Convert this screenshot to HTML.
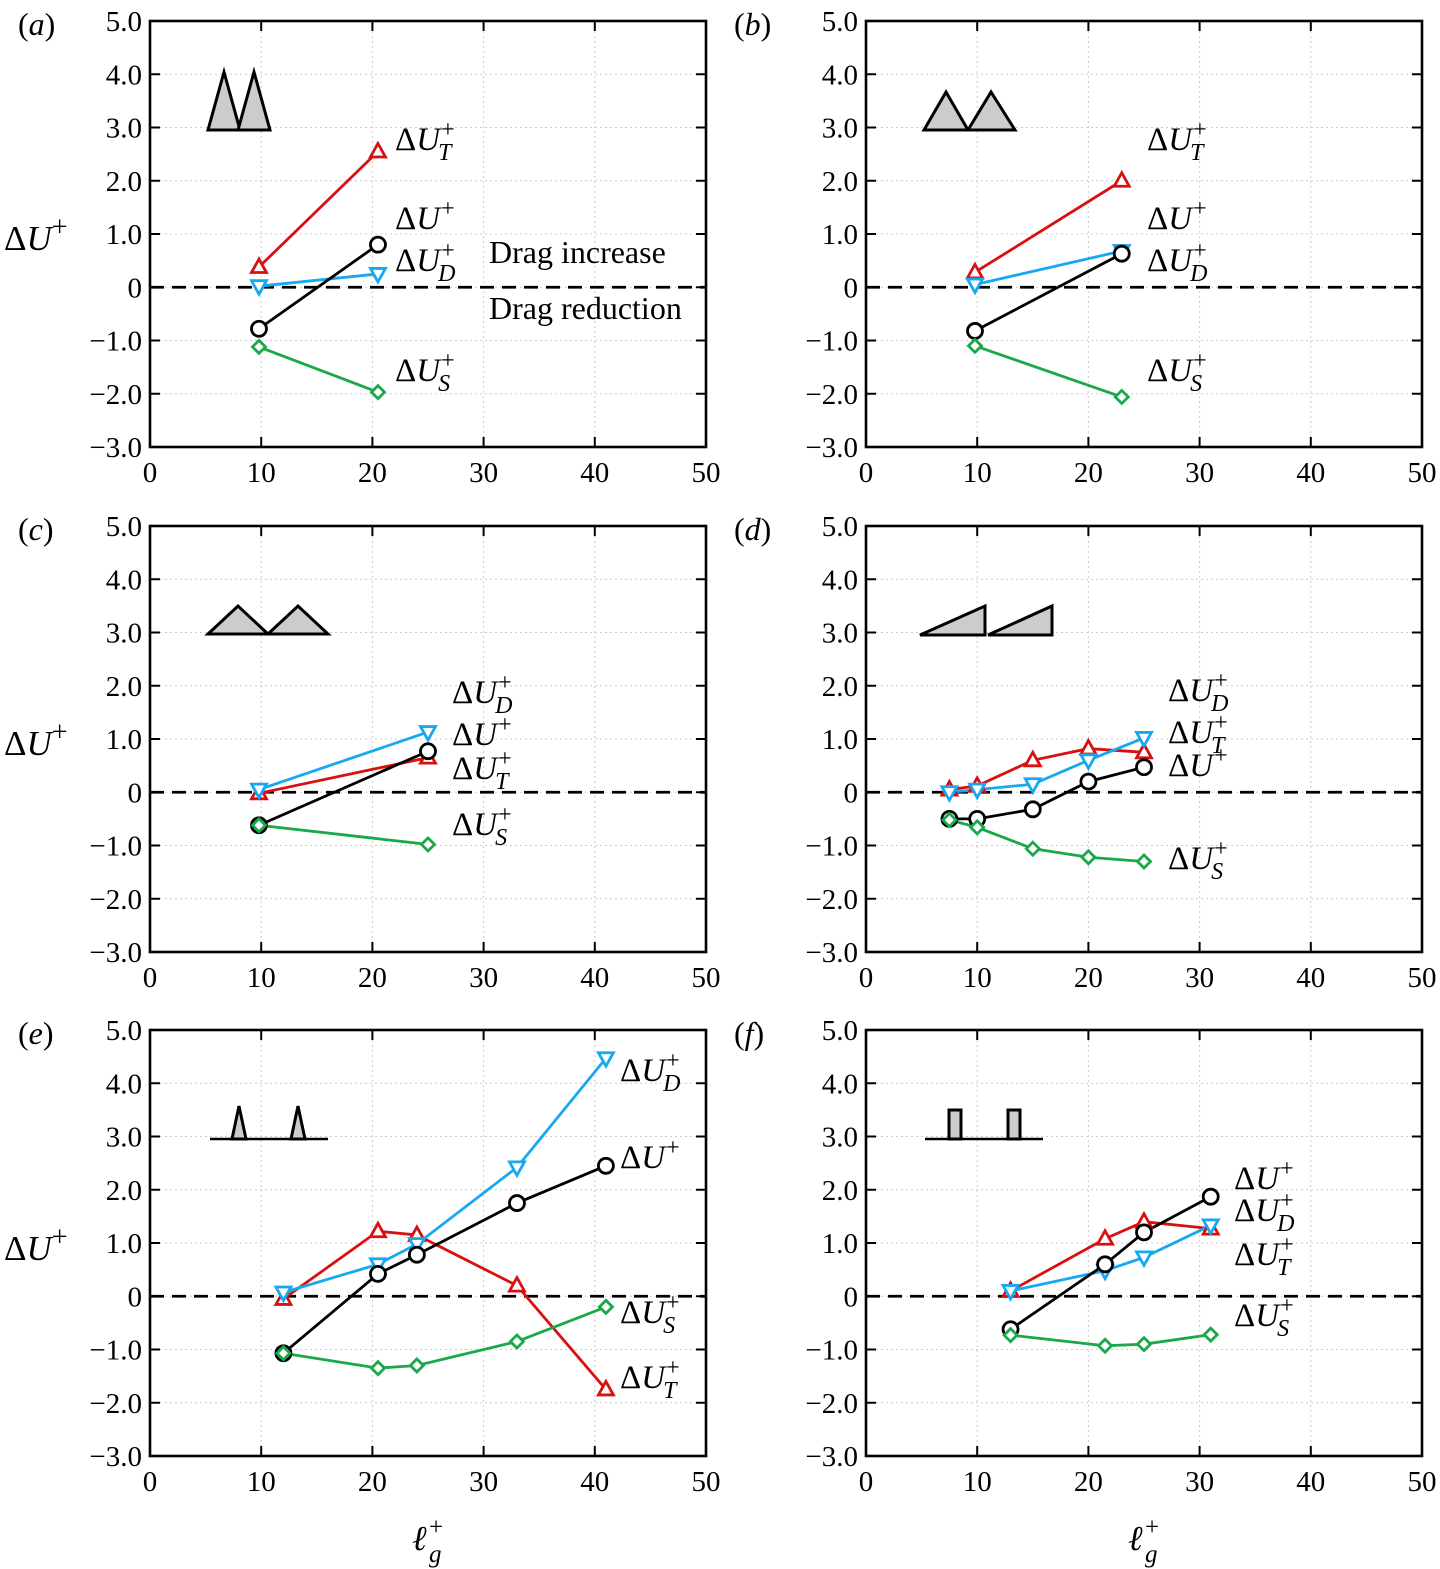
<!DOCTYPE html>
<html><head><meta charset="utf-8">
<style>
html,body{margin:0;padding:0;background:#fff;}
svg{display:block;font-family:"Liberation Serif",serif;}
</style></head>
<body>
<svg id="chart" width="1440" height="1569" viewBox="0 0 1440 1569" xmlns="http://www.w3.org/2000/svg"></svg>
<script>
// ---- data ----
const xA=[9.8,20.5], tA=[0.38,2.55], uA=[-0.78,0.8], dA=[0.02,0.25], sA=[-1.12,-1.97];
const xB=[9.8,23], tB=[0.28,2.0], uB=[-0.82,0.63], dB=[0.05,0.68], sB=[-1.1,-2.06];
const xC=[9.8,25], tC=[-0.02,0.65], uC=[-0.62,0.77], dC=[0.05,1.13], sC=[-0.62,-0.98];
const xD=[7.5,10,15,20,25], tD=[0.05,0.12,0.6,0.82,0.75], uD=[-0.5,-0.5,-0.32,0.2,0.47], dD=[0.0,0.05,0.15,0.6,1.02], sD=[-0.52,-0.66,-1.06,-1.22,-1.3];
const xE=[12,20.5,24,33,41], tE=[-0.05,1.22,1.15,0.2,-1.75], uE=[-1.07,0.42,0.78,1.75,2.45], dE=[0.07,0.6,0.98,2.42,4.47], sE=[-1.07,-1.35,-1.3,-0.85,-0.2];
const xF=[13,21.5,25,31], tF=[0.1,1.08,1.4,1.27], uF=[-0.62,0.6,1.2,1.87], dF=[0.1,0.48,0.73,1.33], sF=[-0.73,-0.93,-0.9,-0.72];
const xTicks=[0,10,20,30,40,50];
const yTicks=[5,4,3,2,1,0,-1,-2,-3];
const yTickLabels=["5.0","4.0","3.0","2.0","1.0","0","\u22121.0","\u22122.0","\u22123.0"];

const NS="http://www.w3.org/2000/svg";
const svg=document.getElementById('chart');
function el(tag,attrs,parent){const e=document.createElementNS(NS,tag);for(const k in attrs)e.setAttribute(k,attrs[k]);(parent||svg).appendChild(e);return e;}

const COL={T:"#d81010",U:"#000",D:"#18a8f0",S:"#1aa84a"};

const panels=[
 {id:"a",x0:150,y0:21,xs:xA,T:tA,U:uA,D:dA,S:sA,lab:[["T",395,150],["U",395,229],["D",395,271],["S",395,381]]},
 {id:"b",x0:866,y0:21,xs:xB,T:tB,U:uB,D:dB,S:sB,lab:[["T",1147,150],["U",1147,229],["D",1147,271],["S",1147,381]]},
 {id:"c",x0:150,y0:526,xs:xC,T:tC,U:uC,D:dC,S:sC,lab:[["D",452,703],["U",452,745],["T",452,779],["S",452,835]]},
 {id:"d",x0:866,y0:526,xs:xD,T:tD,U:uD,D:dD,S:sD,lab:[["D",1168,701],["T",1168,743],["U",1168,776],["S",1168,869]]},
 {id:"e",x0:150,y0:1030,xs:xE,T:tE,U:uE,D:dE,S:sE,lab:[["D",620,1081],["U",620,1168],["S",620,1323],["T",620,1388]]},
 {id:"f",x0:866,y0:1030,xs:xF,T:tF,U:uF,D:dF,S:sF,lab:[["U",1234,1189],["D",1234,1221],["T",1234,1265],["S",1234,1326]]}
];
const W=556,H=426;

function marker(g,key,cx,cy){
  let m;
  if(key==="U") m=el('circle',{cx,cy,r:7.5},g);
  else if(key==="T") m=el('polygon',{points:`${cx},${cy-8} ${cx-7.5},${cy+5.5} ${cx+7.5},${cy+5.5}`},g);
  else if(key==="D") m=el('polygon',{points:`${cx},${cy+8} ${cx-7.5},${cy-5.5} ${cx+7.5},${cy-5.5}`},g);
  else m=el('polygon',{points:`${cx},${cy-6.5} ${cx+6.5},${cy} ${cx},${cy+6.5} ${cx-6.5},${cy}`},g);
  m.setAttribute('fill','#fff');m.setAttribute('stroke',COL[key]);m.setAttribute('stroke-width','2.8');
  return m;
}

function dulabel(g,key,x,y){
  const t=el('text',{x,y,'font-size':33},g);
  t.textContent="\u0394";
  const it=el('tspan',{'font-style':'italic'},t);it.textContent="U";
  const w=t.getComputedTextLength();
  const sp=el('text',{x:x+w+1,y:y-13,'font-size':24},g);sp.textContent="+";
  if(key!=="U"){const sb=el('text',{x:x+w-2,y:y+10,'font-size':24,'font-style':'italic'},g);sb.textContent=key;}
}

panels.forEach(p=>{
  const g=el('g',{});
  
  
  const X=v=>p.x0+v/50*W, Y=v=>p.y0+(5-v)/8*H;
  xTicks.forEach(v=>{if(v>0&&v<50)el('line',{x1:X(v),x2:X(v),y1:p.y0,y2:p.y0+H,stroke:'#ccc','stroke-dasharray':'2,3','stroke-width':1},g);});
  yTicks.forEach(v=>{if(v<5&&v>-3)el('line',{x1:p.x0,x2:p.x0+W,y1:Y(v),y2:Y(v),stroke:'#ccc','stroke-dasharray':'2,3','stroke-width':1},g);});
  const z=el('line',{x1:p.x0,x2:p.x0+W,y1:Y(0),y2:Y(0),stroke:'#000','stroke-width':2.8,'stroke-dasharray':'14,8'},g);
  
  el('rect',{x:p.x0,y:p.y0,width:W,height:H,fill:'none',stroke:'#000','stroke-width':2.6},g);
  xTicks.forEach(v=>{
    el('line',{x1:X(v),x2:X(v),y1:p.y0+H,y2:p.y0+H-10,stroke:'#000','stroke-width':2},g);
    el('line',{x1:X(v),x2:X(v),y1:p.y0,y2:p.y0+10,stroke:'#000','stroke-width':2},g);
    const t=el('text',{x:X(v),y:p.y0+H+35,'font-size':29,'text-anchor':'middle'},g);t.textContent=v;
    
  });
  yTicks.forEach((v,i)=>{
    el('line',{x1:p.x0,x2:p.x0+10,y1:Y(v),y2:Y(v),stroke:'#000','stroke-width':2},g);
    el('line',{x1:p.x0+W,x2:p.x0+W-10,y1:Y(v),y2:Y(v),stroke:'#000','stroke-width':2},g);
    const t=el('text',{x:p.x0-8,y:Y(v)+10,'font-size':29,'text-anchor':'end'},g);t.textContent=yTickLabels[i];
    
  });
  ["T","D","U","S"].forEach(k=>{
    const pts=p.xs.map((xv,i)=>X(xv)+','+Y(p[k][i])).join(' ');
    const l=el('polyline',{points:pts,fill:'none',stroke:COL[k],'stroke-width':2.8},g);
    
  });
  ["T","D","U","S"].forEach(k=>{
    p.xs.forEach((xv,i)=>{const m=marker(g,k,X(xv),Y(p[k][i]));
      });
  });
  p.lab.forEach(l=>dulabel(g,l[0],l[1],l[2]));
  const pl=el('text',{x:p.x0-132,y:p.y0+14,'font-size':32},g);
  pl.textContent="(";const pi=el('tspan',{'font-style':'italic'},pl);pi.textContent=p.id;
  const pc=el('tspan',{},pl);pc.textContent=")";
  
});

[250,755,1260].forEach(y=>{
  const g=el('g',{});
  const t=el('text',{x:4,y:y,'font-size':35},g);t.textContent="\u0394";
  const i=el('tspan',{'font-style':'italic'},t);i.textContent="U";
  const s=el('tspan',{'font-size':28,dy:-14},t);s.textContent="+";
});
[[412,1550],[1128,1550]].forEach(([x,y])=>{
  const g=el('g',{});
  const t=el('text',{x,y,'font-size':35,'font-style':'italic'},g);t.textContent="\u2113";
  el('text',{x:x+17,y:y-15,'font-size':25},g).textContent="+";
  el('text',{x:x+17,y:y+12,'font-size':25,'font-style':'italic'},g).textContent="g";
});
let t1=el('text',{x:489,y:263,'font-size':32});t1.textContent="Drag increase";

let t2=el('text',{x:489,y:319,'font-size':32});t2.textContent="Drag reduction";


const ic={fill:'#cccccc',stroke:'#000','stroke-width':3,'stroke-linejoin':'miter'};
function icon(name,shapes){const g=el('g',{});
  shapes.forEach(s=>el(s[0],Object.assign({},ic,s[1]),g));}
icon('icon-tall-triangles',[['polygon',{points:'208,130 224,72 240,130'}],['polygon',{points:'238,130 254,72 270,130'}]]);
icon('icon-triangles',[['polygon',{points:'924,130 946,92 968,130'}],['polygon',{points:'968,130 991,92 1015,130'}]]);
icon('icon-wide-triangles',[['polygon',{points:'208,634 238,606 268,634'}],['polygon',{points:'268,634 298,606 328,634'}]]);
icon('icon-sawtooth',[['polygon',{points:'920,635 985,606 985,635'}],['polygon',{points:'988,635 1052,606 1052,635'}]]);
icon('icon-spikes',[['line',{x1:210,y1:1139,x2:328,y2:1139,'stroke-width':2.5}],['polygon',{points:'232,1139 239,1106 246,1139'}],['polygon',{points:'291,1139 298,1106 305,1139'}]]);
icon('icon-blocks',[['line',{x1:925,y1:1139,x2:1043,y2:1139,'stroke-width':2.5}],['rect',{x:949,y:1110,width:12,height:29}],['rect',{x:1008,y:1110,width:12,height:29}]]);
</script>
</body></html>
